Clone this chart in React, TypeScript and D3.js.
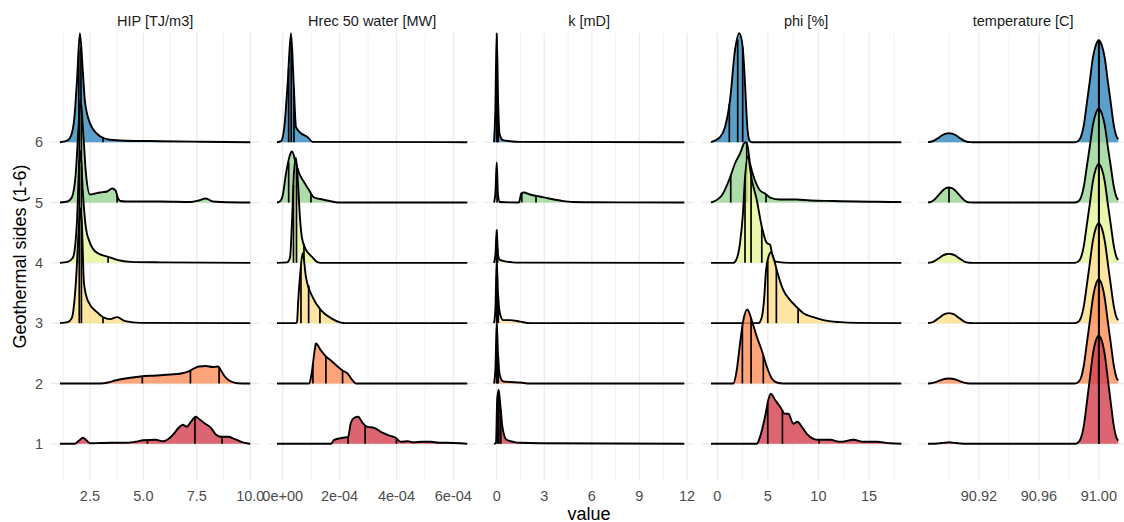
import React from "react";
import * as d3 from "d3";

type Pt = [number, number];

const sides = [1, 2, 3, 4, 5, 6];
const sideLabels = ["1", "2", "3", "4", "5", "6"];
const sideColors = ["#D53E4F", "#FC8D59", "#FEE08B", "#E6F598", "#99D594", "#3288BD"];
const facetTitles = ["HIP [TJ/m3]", "Hrec 50 water [MW]", "k [mD]", "phi [%]", "temperature [C]"];
const xTitle = "value";
const yTitle = "Geothermal sides (1-6)";

// ---------- HIP ----------
const hipRange: Pt = [1.1, 10.0];
const hipBreaks = [2.5, 5, 7.5, 10];
const hipBreakLabels = ["2.5", "5.0", "7.5", "10.0"];
const hipMinor = [1.25, 3.75, 6.25, 8.75];
const hipCurves: Pt[][] = [
  [[1.1,0],[1.79,0],[1.98,3],[2.17,6],[2.36,3],[2.5,0.5],[3.0,0.8],[3.44,1],[4.15,1],[4.62,2],[5.0,3.5],[5.57,4],[5.94,2.5],[6.18,5],[6.42,10],[6.65,16],[6.84,19],[7.03,17],[7.22,22],[7.45,27],[7.59,25],[7.83,21],[8.16,16],[8.40,9],[8.63,7],[8.96,7],[9.25,5],[9.58,2],[9.91,0.3],[10,0]],
  [[1.1,0],[2.97,0],[3.35,1],[3.68,3],[4.15,5],[4.86,7],[5.57,8],[6.27,9],[6.75,10],[7.12,12],[7.36,15],[7.59,17],[7.92,17.5],[8.25,16.5],[8.49,17],[8.63,13],[8.77,8],[8.95,4],[9.1,2],[9.4,0.3],[10,0]],
  [[1.1,0],[1.46,1],[1.65,5],[1.84,40],[1.98,95],[2.06,115],[2.12,100],[2.22,40],[2.41,22],[2.83,11],[3.11,6],[3.44,4],[3.77,6],[4.15,2],[4.86,0.3],[10,0]],
  [[1.1,0],[1.46,1],[1.70,5],[1.89,40],[2.0,100],[2.06,112],[2.17,70],[2.31,35],[2.5,20],[2.83,10],[3.35,6],[3.77,3],[4.39,1],[5.8,0.5],[10,0]],
  [[1.1,0],[1.46,1],[1.65,5],[1.84,30],[1.98,80],[2.06,103],[2.17,75],[2.31,30],[2.5,8],[2.74,9],[2.97,10],[3.30,11],[3.54,14],[3.70,12],[3.80,5],[3.92,1.5],[4.2,1],[5.8,1],[7.22,0.5],[7.59,2],[7.92,4],[8.25,1],[8.63,0.5],[10,0]],
  [[1.1,0],[1.37,1],[1.56,4],[1.75,20],[1.89,60],[2.03,109],[2.17,70],[2.26,42],[2.5,19],[2.97,6],[3.44,2.5],[4.15,1.5],[5.8,1],[7.69,0.5],[10,0]],
];
const hipQuantiles = [
  [5.19, 7.41, 8.68],
  [4.95, 7.2, 8.54],
  [2.0, 2.1, 3.11],
  [2.0, 2.1, 3.35],
  [2.0, 2.1, 3.77],
  [1.98, 2.08, 3.11],
];

// ---------- Hrec 50 water ----------
const hrecRange: Pt = [-0.2e-4, 6.49e-4];
const hrecBreaks = [0, 2e-4, 4e-4, 6e-4];
const hrecBreakLabels = ["0e+00", "2e-04", "4e-04", "6e-04"];
const hrecMinor = [1e-4, 3e-4, 5e-4];
const hrecCurves: Pt[][] = [
  [[-0.2e-4,0],[1.695e-4,0],[1.81e-4,4],[2.105e-4,6],[2.30e-4,7],[2.396e-4,21],[2.512e-4,26],[2.653e-4,27],[2.807e-4,21],[2.982e-4,17],[3.214e-4,16],[3.449e-4,12],[3.684e-4,9],[3.975e-4,6],[4.151e-4,2],[4.4e-4,2.5],[4.607e-4,1.5],[4.9e-4,2],[5.204e-4,2],[5.5e-4,1],[5.789e-4,1],[6.256e-4,0.5],[6.49e-4,0]],
  [[-0.2e-4,0],[0.933e-4,0],[1.018e-4,10],[1.133e-4,35],[1.168e-4,40],[1.344e-4,33],[1.519e-4,27],[1.695e-4,23],[1.93e-4,17],[2.105e-4,13],[2.28e-4,10],[2.456e-4,3],[2.572e-4,0],[6.49e-4,0]],
  [[-0.2e-4,0],[0.467e-4,0],[0.502e-4,1],[0.547e-4,23],[0.618e-4,50],[0.702e-4,70],[0.818e-4,46],[1.053e-4,26],[1.344e-4,13],[1.695e-4,5],[2.046e-4,0.5],[2.2e-4,0],[6.49e-4,0]],
  [[-0.2e-4,0],[0.151e-4,0.5],[0.256e-4,5],[0.326e-4,40],[0.396e-4,90],[0.467e-4,105],[0.537e-4,80],[0.607e-4,45],[0.677e-4,25],[0.818e-4,13],[0.958e-4,8],[1.063e-4,5],[1.204e-4,1],[1.344e-4,0],[6.49e-4,0]],
  [[-0.2e-4,0],[-0.1e-4,1],[0,7],[0.116e-4,29],[0.291e-4,50],[0.326e-4,51],[0.467e-4,39],[0.582e-4,29],[0.758e-4,20],[0.933e-4,12],[1.109e-4,5],[1.404e-4,3],[1.695e-4,1.3],[1.93e-4,0],[6.49e-4,0]],
  [[-0.2e-4,0],[-0.06e-4,1],[0.056e-4,15],[0.175e-4,59],[0.291e-4,109],[0.386e-4,59],[0.467e-4,15],[0.642e-4,9],[0.877e-4,5],[1.053e-4,0.3],[6.49e-4,0]],
];
const hrecQuantiles = [
  [2.30e-4, 2.898e-4, 4.0e-4],
  [1.063e-4, 1.519e-4, 2.105e-4],
  [0.642e-4, 0.912e-4, 1.309e-4],
  [0.379e-4, 0.484e-4, 0.747e-4],
  [0.21e-4, 0.50e-4, 0.993e-4],
  [0.21e-4, 0.30e-4, 0.396e-4],
];

// ---------- k ----------
const kRange: Pt = [-0.17, 11.83];
const kBreaks = [0, 3, 6, 9, 12];
const kBreakLabels = ["0", "3", "6", "9", "12"];
const kMinor = [1.5, 4.5, 7.5, 10.5];
const kCurves: Pt[][] = [
  [[-0.17,0],[-0.044,1],[0.03,44],[0.12,54],[0.22,40],[0.36,17],[0.62,4],[1.05,2],[1.47,1],[2.73,0.5],[11.83,0]],
  [[-0.17,0],[-0.08,15],[0,60],[0.08,30],[0.2,8],[0.42,2],[0.84,1.5],[1.47,1],[2.1,0],[11.83,0]],
  [[-0.17,0],[-0.08,15],[0,62],[0.08,30],[0.2,10],[0.42,3],[0.84,3],[1.47,1.5],[2.1,0],[11.83,0]],
  [[-0.17,0],[-0.08,8],[0,33],[0.08,8],[0.2,3],[0.4,2],[1.0,0.5],[1.47,0.2],[11.83,0]],
  [[-0.17,0],[-0.08,10],[0,40],[0.08,8],[0.2,0.5],[1.4,0],[1.47,4],[1.55,9],[1.7,10],[2.1,8],[2.7,6],[3.3,4],[4.0,2],[4.8,0.5],[6.0,0.3],[11.83,0]],
  [[-0.17,0],[-0.09,30],[0,109],[0.09,40],[0.18,8],[0.4,2],[0.84,1],[1.47,0.3],[11.83,0]],
];
const kQuantiles = [
  [0.06, 0.14, 0.26],
  [0, 0.03, 0.1],
  [0, 0.03, 0.1],
  [0, 0.02, 0.06],
  [0.02, 1.58, 2.48],
  [0, 0.03, 0.09],
];

// ---------- phi ----------
const phiRange: Pt = [-0.62, 18.19];
const phiBreaks = [0, 5, 10, 15];
const phiBreakLabels = ["0", "5", "10", "15"];
const phiMinor = [2.5, 7.5, 12.5, 17.5];
const phiCurves: Pt[][] = [
  [[-0.62,0],[3.90,0],[4.23,7],[4.72,27],[5.05,44],[5.29,50],[5.71,44],[6.21,37],[6.70,30],[7.03,30],[7.52,20],[7.92,22],[8.36,17],[8.85,10],[9.50,5],[10.0,4],[11.16,4],[12.15,2],[13.47,4],[14.46,2],[15.78,2],[17.10,0.5],[18.19,0]],
  [[-0.62,0],[1.58,0],[1.92,13],[2.25,40],[2.57,63],[2.97,74],[3.41,63],[3.90,47],[4.40,33],[4.89,17],[5.39,5],[5.88,1],[6.53,0],[18.19,0]],
  [[-0.62,0],[4.06,0],[4.40,6],[4.62,23],[4.82,53],[5.05,66],[5.32,71],[5.54,66],[5.88,53],[6.53,33],[7.20,23],[7.86,16],[8.51,10],[9.50,6],[10.50,3],[12.15,1],[13.80,0.3],[18.19,0]],
  [[-0.62,0],[1.58,0],[1.95,5],[2.25,20],[2.54,50],[2.74,85],[3.01,106],[3.41,83],[3.90,63],[4.40,36],[4.89,20],[5.22,18],[5.54,3],[5.91,1],[7.20,0],[18.19,0]],
  [[-0.62,0],[0.44,7],[1.26,25],[1.75,39],[2.25,49],[2.74,60],[2.91,60],[3.24,39],[3.73,22],[4.23,12],[4.72,9],[5.22,5],[6.21,3],[7.86,3],[9.18,2],[11.49,1.5],[13.80,1],[18.09,0.5],[18.19,0]],
  [[-0.62,0],[0.27,5],[0.76,15],[1.26,42],[1.75,92],[2.18,109],[2.51,95],[2.74,59],[2.97,15],[3.17,2],[3.41,0],[18.19,0]],
];
const phiQuantiles = [
  [4.99, 6.44, 10.07],
  [2.48, 3.34, 4.55],
  [4.99, 5.84, 7.99],
  [2.74, 3.34, 4.40],
  [1.33, 2.91, 4.82],
  [1.19, 2.02, 2.51],
];

// ---------- temperature ----------
const tempRange: Pt = [90.886, 91.013];
const tempBreaks = [90.92, 90.96, 91.0];
const tempBreakLabels = ["90.92", "90.96", "91.00"];
const tempMinor = [90.9, 90.94, 90.98];
const tempCurves: Pt[][] = [
  [[90.886,0],[90.888,0],[90.890,0.1],[90.892,0.25],[90.894,0.6],[90.896,0.9],[90.898,1.2],[90.900,1.5],[90.902,1.2],[90.904,0.9],[90.906,0.6],[90.908,0.25],[90.910,0.1],[90.912,0],[90.984,0],[90.986,1.1],[90.988,5.4],[90.990,18],[90.992,41],[90.994,65],[90.996,89],[90.998,103],[91.000,108],[91.002,103],[91.004,89],[91.006,65],[91.008,41],[91.010,18],[91.012,5.4],[91.013,3.2]],
  [[90.886,0.05],[90.888,0.25],[90.890,0.85],[90.892,1.9],[90.894,3],[90.896,4.1],[90.898,4.75],[90.900,5],[90.902,4.75],[90.904,4.1],[90.906,3],[90.908,1.9],[90.910,0.85],[90.912,0.25],[90.914,0.05],[90.916,0],[90.984,0],[90.986,1],[90.988,5.2],[90.990,18],[90.992,40],[90.994,62],[90.996,85],[90.998,99],[91.000,104],[91.002,99],[91.004,85],[91.006,62],[91.008,40],[91.010,18],[91.012,5.2],[91.013,3.1]],
  [[90.886,0.1],[90.888,0.5],[90.890,1.7],[90.892,3.8],[90.894,6],[90.896,8.2],[90.898,9.5],[90.900,10],[90.902,9.5],[90.904,8.2],[90.906,6],[90.908,3.8],[90.910,1.7],[90.912,0.5],[90.914,0.1],[90.916,0],[90.984,0],[90.986,1],[90.988,5],[90.990,17],[90.992,38],[90.994,60],[90.996,82],[90.998,95],[91.000,100],[91.002,95],[91.004,82],[91.006,60],[91.008,38],[91.010,17],[91.012,5],[91.013,3]],
  [[90.886,0.1],[90.888,0.45],[90.890,1.5],[90.892,3.4],[90.894,5.4],[90.896,7.4],[90.898,8.6],[90.900,9],[90.902,8.6],[90.904,7.4],[90.906,5.4],[90.908,3.4],[90.910,1.5],[90.912,0.45],[90.914,0.1],[90.916,0],[90.984,0],[90.986,1],[90.988,5],[90.990,17],[90.992,38],[90.994,59],[90.996,81],[90.998,94],[91.000,99],[91.002,94],[91.004,81],[91.006,59],[91.008,38],[91.010,17],[91.012,5],[91.013,3]],
  [[90.886,0.15],[90.888,0.75],[90.890,2.5],[90.892,5.7],[90.894,9],[90.896,12.3],[90.898,14.3],[90.900,15],[90.902,14.3],[90.904,12.3],[90.906,9],[90.908,5.7],[90.910,2.5],[90.912,0.75],[90.914,0.15],[90.916,0],[90.984,0],[90.986,0.9],[90.988,4.7],[90.990,16],[90.992,36],[90.994,56],[90.996,77],[90.998,89],[91.000,94],[91.002,89],[91.004,77],[91.006,56],[91.008,36],[91.010,16],[91.012,4.7],[91.013,2.8]],
  [[90.886,0.1],[90.888,0.45],[90.890,1.5],[90.892,3.4],[90.894,5.4],[90.896,7.4],[90.898,8.6],[90.900,9],[90.902,8.6],[90.904,7.4],[90.906,5.4],[90.908,3.4],[90.910,1.5],[90.912,0.45],[90.914,0.1],[90.916,0],[90.984,0],[90.986,1],[90.988,5],[90.990,17],[90.992,39],[90.994,61],[90.996,84],[90.998,97],[91.000,102],[91.002,97],[91.004,84],[91.006,61],[91.008,39],[91.010,17],[91.012,5],[91.013,3]],
];
const tempQuantiles = [
  [91.0, 91.0, 91.0],
  [91.0, 91.0, 91.0],
  [91.0, 91.0, 91.0],
  [91.0, 91.0, 91.0],
  [90.9, 91.0, 91.0],
  [91.0, 91.0, 91.0],
];

const facets = [
  { title: facetTitles[0], range: hipRange, breaks: hipBreaks, labels: hipBreakLabels, minor: hipMinor, curves: hipCurves, quantiles: hipQuantiles },
  { title: facetTitles[1], range: hrecRange, breaks: hrecBreaks, labels: hrecBreakLabels, minor: hrecMinor, curves: hrecCurves, quantiles: hrecQuantiles },
  { title: facetTitles[2], range: kRange, breaks: kBreaks, labels: kBreakLabels, minor: kMinor, curves: kCurves, quantiles: kQuantiles },
  { title: facetTitles[3], range: phiRange, breaks: phiBreaks, labels: phiBreakLabels, minor: phiMinor, curves: phiCurves, quantiles: phiQuantiles },
  { title: facetTitles[4], range: tempRange, breaks: tempBreaks, labels: tempBreakLabels, minor: tempMinor, curves: tempCurves, quantiles: tempQuantiles },
];

const W = 1124;
const H = 522;
const PANEL_LEFT = 50.5;
const PANEL_W = 209.3;
const PANEL_GAP = 7.7;
const PANEL_TOP = 33;
const PANEL_BOTTOM = 480;
const FONT = "'Liberation Sans', Arial, Helvetica, sans-serif";

function densityAt(pts: Pt[], q: number): number {
  const i = d3.bisector((d: Pt) => d[0]).left(pts, q);
  if (i <= 0) return pts[0][1];
  if (i >= pts.length) return pts[pts.length - 1][1];
  const a = pts[i - 1];
  const b = pts[i];
  const t = (q - a[0]) / (b[0] - a[0]);
  return a[1] + t * (b[1] - a[1]);
}

export default function App() {
  const y = d3.scaleLinear().domain([0.4, 7.81]).range([PANEL_BOTTOM, PANEL_TOP]);
  const ridge = d3.scaleLinear().domain([0, 109]).range([0, 1.807]);
  const drawOrder = [5, 4, 3, 2, 1, 0];

  return (
    <div style={{ position: "absolute", left: 0, top: 0 }}>
      <svg width={W} height={H} style={{ display: "block" }} fontFamily={FONT}>
        <rect x={0} y={0} width={W} height={H} fill="#ffffff" />
        {facets.map((f, fi) => {
          const left = PANEL_LEFT + fi * (PANEL_W + PANEL_GAP);
          const pad = (f.range[1] - f.range[0]) * 0.05;
          const x = d3
            .scaleLinear()
            .domain([f.range[0] - pad, f.range[1] + pad])
            .range([left, left + PANEL_W]);
          return (
            <g key={fi}>
              {f.minor.map((m, i) => (
                <line key={"mn" + i} x1={x(m)} x2={x(m)} y1={PANEL_TOP} y2={PANEL_BOTTOM} stroke="#EFEFEF" strokeWidth={0.9} />
              ))}
              {f.breaks.map((b, i) => (
                <line key={"mj" + i} x1={x(b)} x2={x(b)} y1={PANEL_TOP} y2={PANEL_BOTTOM} stroke="#EBEBEB" strokeWidth={1.3} />
              ))}
              {sides.map((s) => (
                <line key={"h" + s} x1={left} x2={left + PANEL_W} y1={y(s)} y2={y(s)} stroke="#EBEBEB" strokeWidth={1.3} />
              ))}
              {drawOrder.map((ri) => {
                const s = sides[ri];
                const pts = f.curves[ri];
                const area = d3
                  .area<Pt>()
                  .x((d) => x(d[0]))
                  .y0(y(s))
                  .y1((d) => y(s + ridge(d[1])))
                  .curve(d3.curveMonotoneX);
                const line = d3
                  .line<Pt>()
                  .x((d) => x(d[0]))
                  .y((d) => y(s + ridge(d[1])))
                  .curve(d3.curveMonotoneX);
                return (
                  <g key={"r" + ri}>
                    <path d={area(pts) || ""} fill={sideColors[ri]} fillOpacity={0.8} stroke="none" />
                    {f.quantiles[ri].map((q, qi) => (
                      <line
                        key={"q" + qi}
                        x1={x(q)}
                        x2={x(q)}
                        y1={y(s)}
                        y2={y(s + ridge(densityAt(pts, q)))}
                        stroke="#000"
                        strokeWidth={1.7}
                      />
                    ))}
                    <path d={line(pts) || ""} fill="none" stroke="#000" strokeWidth={1.9} strokeLinejoin="round" />
                  </g>
                );
              })}
              <text x={left + PANEL_W / 2} y={25.5} textAnchor="middle" fontSize={14.5} fill="#1A1A1A">
                {f.title}
              </text>
              {f.breaks.map((b, i) => (
                <text key={"t" + i} x={x(b)} y={501} textAnchor="middle" fontSize={14.5} fill="#4D4D4D">
                  {f.labels[i]}
                </text>
              ))}
            </g>
          );
        })}
        {sides.map((s, i) => (
          <text key={"yl" + s} x={43} y={y(s)} dy="0.36em" textAnchor="end" fontSize={14.5} fill="#4D4D4D">
            {sideLabels[i]}
          </text>
        ))}
        <text x={589} y={519.5} textAnchor="middle" fontSize={18} fill="#000">
          {xTitle}
        </text>
        <text transform={`translate(26, ${(PANEL_TOP + PANEL_BOTTOM) / 2}) rotate(-90)`} textAnchor="middle" fontSize={18} fill="#000">
          {yTitle}
        </text>
      </svg>
    </div>
  );
}
